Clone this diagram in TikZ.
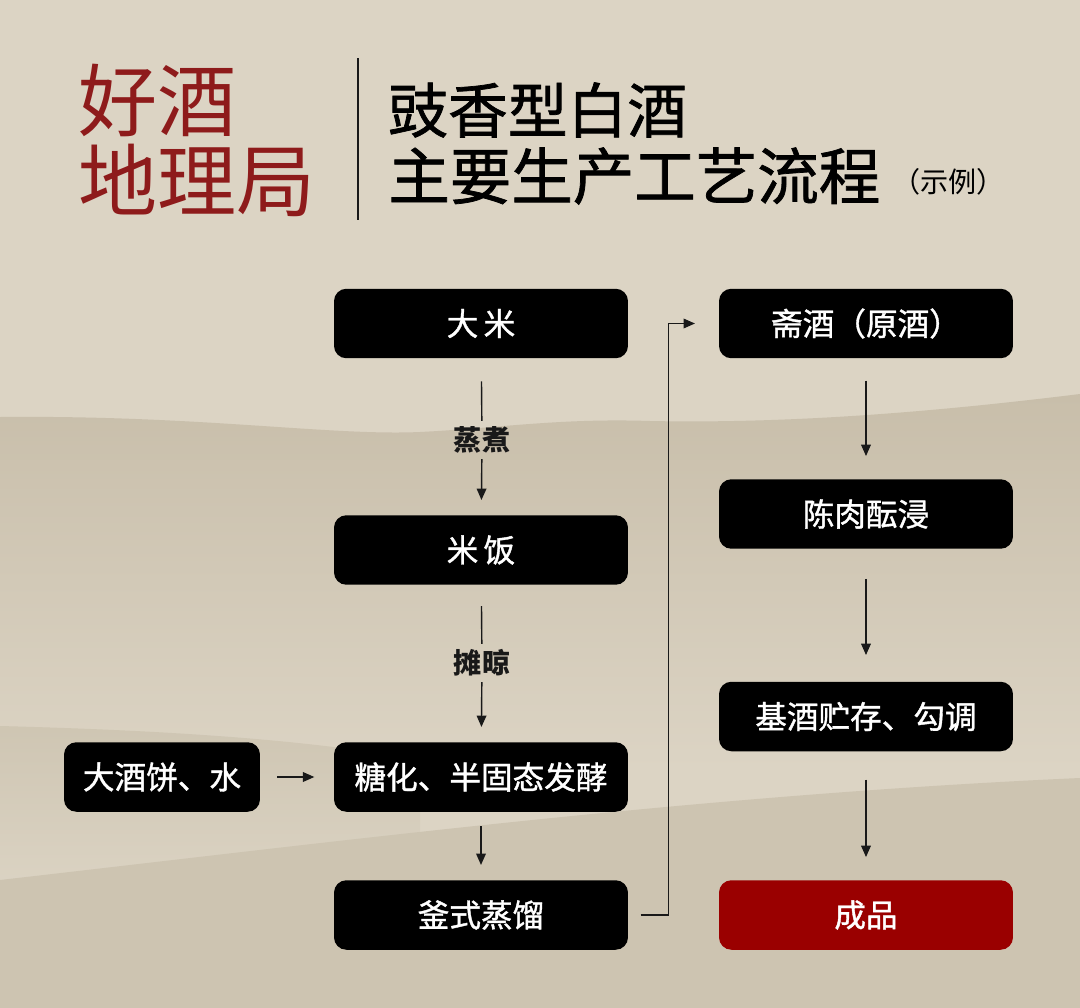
\documentclass[tikz,border=0pt]{standalone}
\usepackage{fontspec}
\newfontfamily\cjk{Noto Sans CJK SC}
\newfontfamily\cjkmid{Noto Sans CJK SC}[FakeBold=1.2]
\usepackage{tikz}
\usetikzlibrary{arrows.meta, positioning}
\definecolor{paper}{HTML}{DCD4C4}
\definecolor{hill}{HTML}{C8BEAA}
\definecolor{hilllow}{HTML}{CDC4B1}
\definecolor{wine}{HTML}{8E1B1B}
\definecolor{finalred}{HTML}{9A0000}

\begin{document}
\begin{tikzpicture}[x=0.02cm, y=-0.02cm,
  stepbox/.style={fill=black, rounded corners=7pt, minimum width=5.88cm,
    minimum height=1.39cm, inner sep=0pt, text=white,
    font=\cjkmid\fontsize{18}{20}\selectfont},
  smallbox/.style={stepbox, minimum width=3.92cm},
  endbox/.style={stepbox, fill=finalred},
  actlabel/.style={inner sep=3pt, text=black!90,
    font=\cjk\bfseries\fontsize{16}{18}\selectfont},
  flow/.style={-{Triangle[length=6.5pt,width=5.5pt]}, line width=0.8pt, black!90}
]
\useasboundingbox (0,0) rectangle (1080,1008);

%paper and hills
\fill[paper] (0,0) rectangle (1080,1008);
\shade[top color=hill, bottom color=paper]
  (0,417) .. controls (200,415) and (330,436) .. (420,432)
  .. controls (500,428) and (560,418) .. (650,421)
  .. controls (800,424) and (950,410) .. (1080,394)
  -- (1080,770) -- (0,770) -- cycle;
\shade[top color=hilllow!90!paper, bottom color=paper]
  (0,726) .. controls (150,730) and (300,738) .. (420,760)
  -- (420,900) -- (0,900) -- cycle;
\fill[hilllow]
  (0,880) .. controls (350,840) and (700,795) .. (1080,778)
  -- (1080,1008) -- (0,1008) -- cycle;

%title
\node[anchor=west, inner sep=0pt, text=wine, font=\cjk\fontsize{45}{50}\selectfont]
  (brand1) at (78,100) {好酒};
\node[anchor=west, inner sep=0pt, text=wine, font=\cjk\fontsize{45}{50}\selectfont]
  (brand2) at (78,180) {地理局};
\draw[line width=1.2pt, black!90] (358,58) -- (358,220);
\node[anchor=west, inner sep=0pt, font=\cjkmid\fontsize{34}{40}\selectfont]
  (title1) at (388,110) {豉香型白酒};
\node[anchor=west, inner sep=0pt, font=\cjkmid\fontsize{35}{40}\selectfont]
  (title2) at (388,176) {主要生产工艺流程};
\node[anchor=west, inner sep=0pt, font=\cjk\fontsize{16}{18}\selectfont]
  (title3) at (892,182) {（示例）};

%left column
\node[stepbox] (rice) at (481,323.5) {大\,米};
\node[stepbox] (cooked) at (481,550) {米\,饭};
\node[stepbox] (ferment) at (481,777) {糖化、半固态发酵};
\node[stepbox] (still) at (481,915) {釜式蒸馏};
\node[smallbox] (starter) at (162,777) {大酒饼、水};

\node[actlabel] (steam) at (482,440) {蒸煮};
\node[actlabel] (spread) at (482,663) {摊晾};

%right column
\node[stepbox] (rawliq) at (866,323.5) {斋酒（原酒）};
\node[stepbox] (soak) at (866,514) {陈肉酝浸};
\node[stepbox] (blend) at (866,716.5) {基酒贮存、勾调};
\node[endbox] (product) at (866,915) {成品};

%arrows
\draw[line width=0.8pt, black!90, shorten <=13pt] (rice) -- (steam);
\draw[flow, shorten >=8.5pt] (steam) -- (cooked);
\draw[line width=0.8pt, black!90, shorten <=12pt] (cooked) -- (spread);
\draw[flow, shorten >=8.5pt] (spread) -- (ferment);
\draw[flow, shorten <=9.5pt, shorten >=11pt] (starter) -- (ferment);
\draw[flow, shorten <=8pt, shorten >=8.5pt] (ferment) -- (still);
\draw[flow, shorten <=7pt, shorten >=13.5pt] (still.east) -- ++(40,0) |- (rawliq.west);
\draw[flow, shorten <=12.5pt, shorten >=13pt] (rawliq) -- (soak);
\draw[flow, shorten <=17pt, shorten >=15pt] (soak) -- (blend);
\draw[flow, shorten <=16pt, shorten >=13pt] (blend) -- (product);
\end{tikzpicture}
\end{document}
